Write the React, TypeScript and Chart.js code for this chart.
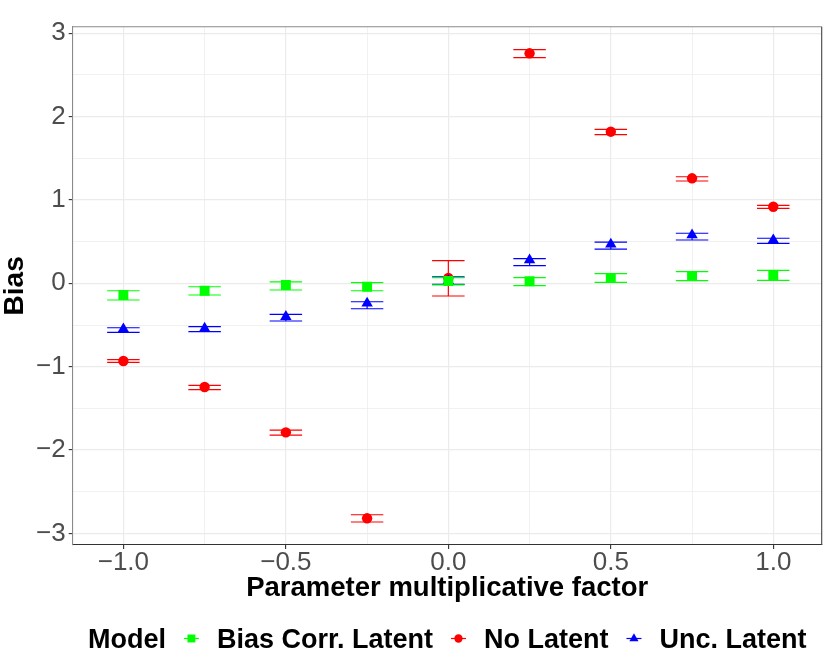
import React, { useEffect, useRef } from "react";
import { Chart, registerables } from "chart.js";

Chart.register(...registerables);

// multiplicative factor applied to the parameter
const factors = [-1, -0.75, -0.5, -0.25, 0, 0.25, 0.5, 0.75, 1];

// Bias Corr. Latent
const biasCorrMean = [-0.14, -0.089, -0.02, -0.041, 0.028, 0.024, 0.064, 0.088, 0.1];
const biasCorrLow = [-0.2, -0.14, -0.08, -0.089, -0.02, -0.029, 0.012, 0.031, 0.036];
const biasCorrHigh = [-0.089, -0.041, 0.016, 0.007, 0.067, 0.067, 0.115, 0.139, 0.156];

// No Latent
const noLatentMean = [-0.932, -1.243, -1.787, -2.818, 0.064, 2.758, 1.818, 1.259, 0.918];
const noLatentLow = [-0.947, -1.276, -1.82, -2.862, -0.152, 2.705, 1.782, 1.227, 0.899];
const noLatentHigh = [-0.916, -1.223, -1.76, -2.775, 0.271, 2.801, 1.847, 1.278, 0.935];

// Unc. Latent
const uncLatentMean = [-0.548, -0.54, -0.4, -0.24, 0.031, 0.279, 0.468, 0.579, 0.519];
const uncLatentLow = [-0.588, -0.58, -0.452, -0.305, -0.012, 0.211, 0.411, 0.519, 0.48];
const uncLatentHigh = [-0.533, -0.52, -0.372, -0.221, 0.076, 0.295, 0.495, 0.6, 0.54];

const xTicks = [-1, -0.75, -0.5, -0.25, 0, 0.25, 0.5, 0.75, 1];
const xLabelTicks = [-1, -0.5, 0, 0.5, 1];
const yTicks = [-3, -2.5, -2, -1.5, -1, -0.5, 0, 0.5, 1, 1.5, 2, 2.5, 3];
const yLabelTicks = [-3, -2, -1, 0, 1, 2, 3];

const legendTitle = "Model";
const seriesNames = ["Bias Corr. Latent", "No Latent", "Unc. Latent"];
const seriesColors = ["#00ff00", "#ff0000", "#0000ff"];
const seriesShapes = ["rect", "circle", "triangle"];
const seriesRadius = [7, 5.2, 6.6];

const FONT = "'Liberation Sans', Arial, Helvetica, sans-serif";
const ERR_HALF = 0.05;

const toPoints = (ys: number[]) => factors.map((x, i) => ({ x, y: ys[i] }));

const minus = (s: string) => s.replace("-", "\u2212");

function drawMarker(ctx: CanvasRenderingContext2D, shape: string, x: number, y: number, r: number) {
  ctx.beginPath();
  if (shape === "rect") {
    const s = Math.SQRT1_2 * r;
    ctx.rect(x - s, y - s, 2 * s, 2 * s);
  } else if (shape === "circle") {
    ctx.arc(x, y, r, 0, Math.PI * 2);
  } else {
    ctx.moveTo(x, y - r);
    ctx.lineTo(x + Math.sin((2 * Math.PI) / 3) * r, y + r / 2);
    ctx.lineTo(x - Math.sin((2 * Math.PI) / 3) * r, y + r / 2);
    ctx.closePath();
  }
  ctx.fill();
}

const errorBarPlugin = {
  id: "errorBars",
  beforeDatasetsDraw(chart: any) {
    const { ctx, chartArea, scales } = chart;
    ctx.save();
    ctx.beginPath();
    ctx.rect(chartArea.left, chartArea.top, chartArea.width, chartArea.height);
    ctx.clip();
    // draw red first, then blue, then green on top
    [1, 2, 0].forEach((di) => {
      const ds = chart.data.datasets[di];
      ctx.strokeStyle = ds.backgroundColor;
      ctx.lineWidth = 1.2;
      factors.forEach((f, i) => {
        const x = scales.x.getPixelForValue(f);
        const xl = scales.x.getPixelForValue(f - ERR_HALF);
        const xr = scales.x.getPixelForValue(f + ERR_HALF);
        const yl = scales.y.getPixelForValue(ds.errLow[i]);
        const yh = scales.y.getPixelForValue(ds.errHigh[i]);
        ctx.beginPath();
        ctx.moveTo(x, yl);
        ctx.lineTo(x, yh);
        ctx.moveTo(xl, yl);
        ctx.lineTo(xr, yl);
        ctx.moveTo(xl, yh);
        ctx.lineTo(xr, yh);
        ctx.stroke();
      });
    });
    ctx.restore();
  },
  afterDraw(chart: any) {
    const { ctx, chartArea } = chart;
    ctx.save();
    // top and right panel border
    ctx.lineWidth = 1.1;
    ctx.strokeStyle = "#8a8a8a";
    ctx.beginPath();
    ctx.moveTo(chartArea.left, chartArea.top);
    ctx.lineTo(chartArea.right, chartArea.top);
    ctx.stroke();
    ctx.strokeStyle = "#444444";
    ctx.beginPath();
    ctx.moveTo(chartArea.right, chartArea.top);
    ctx.lineTo(chartArea.right, chartArea.bottom);
    ctx.stroke();

    // legend
    ctx.font = `bold 27px ${FONT}`;
    ctx.fillStyle = "#000000";
    ctx.textBaseline = "alphabetic";
    ctx.textAlign = "left";
    const gapKey = 25.5;
    const widths = seriesNames.map((n) => ctx.measureText(n).width);
    const titleW = ctx.measureText(legendTitle).width;
    const total = titleW + widths.reduce((a, b) => a + b, 0) + seriesNames.length * 2 * gapKey;
    let x = (chartArea.left + chartArea.right) / 2 - total / 2;
    const baseY = 648.3;
    const keyY = 638.5;
    ctx.fillText(legendTitle, x, baseY);
    x += titleW;
    seriesNames.forEach((name, i) => {
      const kx = x + gapKey;
      ctx.strokeStyle = seriesColors[i];
      ctx.fillStyle = seriesColors[i];
      ctx.lineWidth = 1.2;
      ctx.beginPath();
      ctx.moveTo(kx - 7.5, keyY);
      ctx.lineTo(kx + 7.5, keyY);
      ctx.stroke();
      drawMarker(ctx, seriesShapes[i], kx, keyY, seriesRadius[i] * 0.8);
      ctx.fillStyle = "#000000";
      ctx.fillText(name, kx + gapKey, baseY);
      x = kx + gapKey + widths[i];
    });
    ctx.restore();
  },
};

const App = () => {
  const canvasRef = useRef<HTMLCanvasElement>(null);
  const chartRef = useRef<Chart | null>(null);

  useEffect(() => {
    document.body.style.margin = "0";
    if (chartRef.current) chartRef.current.destroy();
    const ctx = canvasRef.current!.getContext("2d")!;

    const means = [biasCorrMean, noLatentMean, uncLatentMean];
    const lows = [biasCorrLow, noLatentLow, uncLatentLow];
    const highs = [biasCorrHigh, noLatentHigh, uncLatentHigh];
    const orders = [0, 2, 1];

    chartRef.current = new Chart(ctx, {
      type: "scatter",
      data: {
        datasets: seriesNames.map((name, i) => ({
          label: name,
          data: toPoints(means[i]),
          errLow: lows[i],
          errHigh: highs[i],
          backgroundColor: seriesColors[i],
          borderWidth: 0,
          pointStyle: seriesShapes[i],
          pointRadius: seriesRadius[i],
          pointHoverRadius: seriesRadius[i],
          order: orders[i],
        })) as any,
      },
      options: {
        responsive: false,
        animation: false,
        events: [],
        layout: { padding: { top: 26.7, right: 8.3, bottom: 0, left: 0 } },
        plugins: {
          legend: { display: false },
          tooltip: { enabled: false },
        },
        scales: {
          x: {
            type: "linear",
            position: "bottom",
            min: -1.156,
            max: 1.149,
            afterFit: (scale: any) => {
              scale.height = 119;
            },
            afterBuildTicks: (scale: any) => {
              scale.ticks = xTicks.map((v) => ({ value: v }));
            },
            ticks: {
              autoSkip: false,
              maxRotation: 0,
              padding: -1.5,
              color: "#4d4d4d",
              font: { size: 26, family: FONT },
              callback: (v: any) =>
                xLabelTicks.includes(Number(v)) ? minus(Number(v).toFixed(1)) : "",
            },
            grid: {
              color: "#ebebeb",
              lineWidth: (c: any) => (xLabelTicks.includes(c.tick?.value) ? 1.2 : 0.7),
              tickColor: (c: any) => (xLabelTicks.includes(c.tick?.value) ? "#333333" : "rgba(0,0,0,0)"),
              tickLength: 4,
              tickWidth: 1.1,
            },
            border: { color: "#333333", width: 1.1 },
            title: {
              display: true,
              text: "Parameter multiplicative factor",
              color: "#000000",
              font: { size: 27.5, weight: "bold", family: FONT },
              padding: { top: 0, bottom: 58.7 },
            },
          },
          y: {
            type: "linear",
            position: "left",
            min: -3.138,
            max: 3.077,
            afterFit: (scale: any) => {
              scale.width = 72.7;
            },
            afterBuildTicks: (scale: any) => {
              scale.ticks = yTicks.map((v) => ({ value: v }));
            },
            ticks: {
              autoSkip: false,
              padding: 3,
              color: "#4d4d4d",
              font: { size: 26, family: FONT },
              callback: (v: any) =>
                yLabelTicks.includes(Number(v)) ? minus(String(Number(v))) : "",
            },
            grid: {
              color: "#ebebeb",
              lineWidth: (c: any) => (yLabelTicks.includes(c.tick?.value) ? 1.2 : 0.7),
              tickColor: (c: any) => (yLabelTicks.includes(c.tick?.value) ? "#333333" : "rgba(0,0,0,0)"),
              tickLength: 4,
              tickWidth: 1.1,
            },
            border: { color: "#8a8a8a", width: 1.1 },
            title: {
              display: true,
              text: "Bias",
              color: "#000000",
              font: { size: 28, weight: "bold", family: FONT },
              padding: { top: -1.5, bottom: 0 },
            },
          },
        },
      },
      plugins: [errorBarPlugin],
    });

    return () => {
      if (chartRef.current) {
        chartRef.current.destroy();
        chartRef.current = null;
      }
    };
  }, []);

  return (
    <div style={{ width: 830, height: 664, background: "#ffffff" }}>
      <canvas ref={canvasRef} width={830} height={664} style={{ display: "block" }} />
    </div>
  );
};

export default App;
